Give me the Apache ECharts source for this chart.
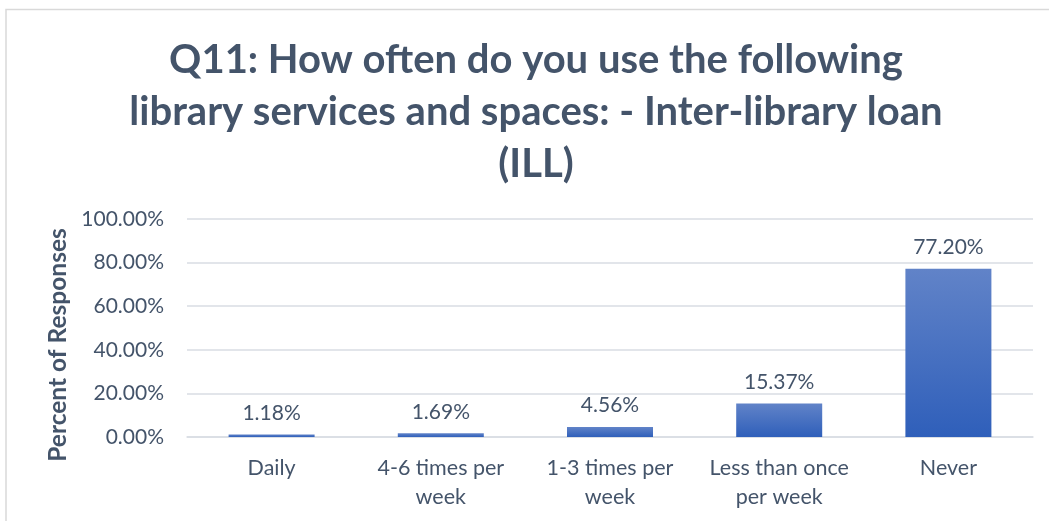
<!DOCTYPE html>
<html>
<head>
<meta charset="utf-8">
<script src="https://cdn.jsdelivr.net/npm/echarts@6/dist/echarts.min.js"></script>
<style>
  html, body { margin: 0; padding: 0; background: #ffffff; }
  #chart { width: 1049px; height: 521px; }
</style>
</head>
<body>
<div id="chart"></div>
<script>
// Survey answers for Q11 (inter-library loan usage)
const categories = ['Daily', '4-6 times per\nweek', '1-3 times per\nweek', 'Less than once\nper week', 'Never'];
const percentValues = [1.18, 1.69, 4.56, 15.37, 77.20];
const yTicks = [0, 20, 40, 60, 80, 100];

const textColor = '#44546A';
const fontFamily = 'Lato, "Open Sans", sans-serif';

const chart = echarts.init(document.getElementById('chart'), null, { renderer: 'canvas' });

chart.setOption({
  animation: false,
  backgroundColor: '#ffffff',
  title: {
    text: 'Q11: How often do you use the following\nlibrary services and spaces: - Inter-library loan\n(ILL)',
    left: 531,
    top: 29,
    textAlign: 'center',
    textStyle: {
      color: textColor,
      fontFamily: fontFamily,
      fontWeight: 'bold',
      fontSize: 40,
      lineHeight: 52
    }
  },
  graphic: [{
    type: 'polyline',
    shape: { points: [[6, 521], [6, 9.5], [1049, 9.5]] },
    style: { stroke: '#D9D9D9', lineWidth: 1.5, fill: null },
    silent: true
  }],
  grid: { left: 187, right: 16, top: 219, bottom: 84 },
  xAxis: {
    type: 'category',
    data: categories,
    axisLine: { show: true, lineStyle: { color: '#D9DDE3', width: 1.5 } },
    axisTick: { show: false },
    axisLabel: {
      color: textColor,
      fontFamily: fontFamily,
      fontSize: 21.5,
      lineHeight: 29,
      margin: 17,
      interval: 0
    }
  },
  yAxis: {
    type: 'value',
    min: yTicks[0],
    max: yTicks[yTicks.length - 1],
    interval: yTicks[1] - yTicks[0],
    name: 'Percent of Responses',
    nameLocation: 'middle',
    nameGap: 116,
    nameTextStyle: {
      color: textColor,
      fontFamily: fontFamily,
      fontWeight: 'bold',
      fontSize: 24.5,
      padding: [0, 34, 0, 0]
    },
    axisLine: { show: false },
    axisTick: { show: false },
    splitLine: { lineStyle: { color: '#D9DDE3', width: 1.5 } },
    axisLabel: {
      color: textColor,
      fontFamily: fontFamily,
      fontSize: 21,
      margin: 23,
      formatter: v => v.toFixed(2) + '%'
    }
  },
  series: [{
    type: 'bar',
    data: percentValues,
    barWidth: 86,
    itemStyle: {
      color: new echarts.graphic.LinearGradient(0, 0, 0, 1, [
        { offset: 0, color: '#6183C8' },
        { offset: 1, color: '#2F5FBA' }
      ])
    },
    label: {
      show: true,
      position: 'top',
      distance: 11,
      color: textColor,
      fontFamily: fontFamily,
      fontSize: 21,
      formatter: p => p.value.toFixed(2) + '%'
    }
  }]
});
</script>
</body>
</html>
